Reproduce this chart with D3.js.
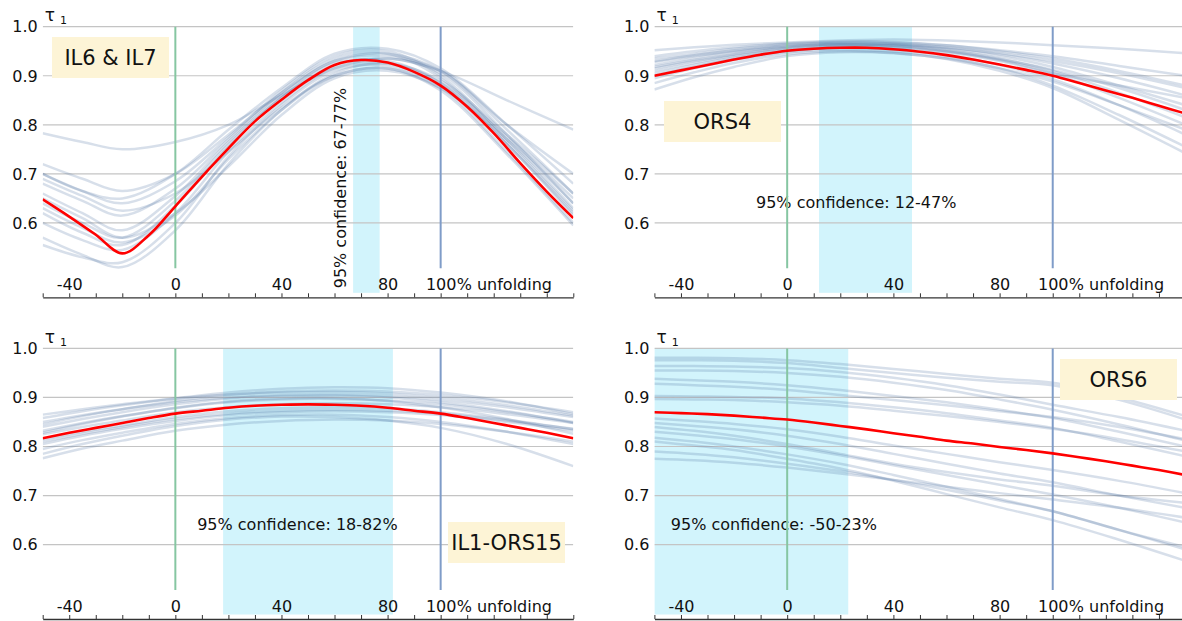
<!DOCTYPE html>
<html>
<head>
<meta charset="utf-8">
<script src="https://cdn.jsdelivr.net/npm/d3@7"></script>
<style>
  body { margin: 0; background: #fff; }
  svg text { font-family: "DejaVu Sans", sans-serif; fill: #111; }
</style>
</head>
<body>
<div id="chart"></div>
<script>
const width = 1182;
const height = 621;

// x positions (% unfolding) of the sampled values
const unfoldFine = [-50, -40, -30, -20, -10, 0, 10, 20, 30, 40, 50, 60, 70, 80, 90, 100, 110, 120, 130, 140, 150];
const unfoldCoarse = [-50, -35, -20, 0, 20, 40, 60, 80, 100, 125, 150];
const minorTicks = [-50, -40, -30, -20, -10, 0, 10, 20, 30, 40, 50, 60, 70, 80, 90, 100, 110, 120, 130, 140, 150];
const xTickLabels = [-40, 0, 40, 80, 100];
const yTicks = [0.6, 0.7, 0.8, 0.9, 1.0];

// IL6 & IL7
const il67Mean = [0.648, 0.613, 0.576, 0.538, 0.575, 0.634, 0.694, 0.752, 0.807, 0.851, 0.891, 0.922, 0.932, 0.927, 0.908, 0.880, 0.837, 0.783, 0.722, 0.664, 0.610];
const il67Boot = [
  [0.783, 0.765, 0.750, 0.765, 0.800, 0.860, 0.915, 0.935, 0.905, 0.780, 0.640],
  [0.720, 0.690, 0.665, 0.700, 0.780, 0.865, 0.930, 0.945, 0.910, 0.790, 0.660],
  [0.700, 0.665, 0.640, 0.685, 0.775, 0.870, 0.940, 0.950, 0.900, 0.770, 0.630],
  [0.680, 0.645, 0.615, 0.670, 0.770, 0.865, 0.935, 0.945, 0.895, 0.765, 0.625],
  [0.660, 0.620, 0.585, 0.655, 0.765, 0.860, 0.930, 0.940, 0.910, 0.800, 0.700],
  [0.640, 0.600, 0.570, 0.645, 0.760, 0.855, 0.920, 0.935, 0.910, 0.850, 0.790],
  [0.620, 0.580, 0.555, 0.635, 0.755, 0.855, 0.925, 0.930, 0.885, 0.760, 0.615],
  [0.600, 0.565, 0.545, 0.620, 0.745, 0.845, 0.915, 0.925, 0.885, 0.775, 0.650],
  [0.555, 0.530, 0.520, 0.600, 0.735, 0.840, 0.910, 0.920, 0.880, 0.760, 0.620],
  [0.570, 0.535, 0.510, 0.585, 0.720, 0.830, 0.905, 0.925, 0.890, 0.780, 0.660],
  [0.690, 0.655, 0.625, 0.660, 0.745, 0.835, 0.900, 0.915, 0.875, 0.745, 0.600],
  [0.650, 0.610, 0.570, 0.620, 0.715, 0.820, 0.895, 0.910, 0.875, 0.770, 0.640],
  [0.700, 0.665, 0.650, 0.700, 0.790, 0.875, 0.945, 0.955, 0.915, 0.800, 0.680],
  [0.630, 0.590, 0.560, 0.615, 0.730, 0.830, 0.900, 0.915, 0.870, 0.740, 0.595]
];

// ORS4
const ors4Mean = [0.900, 0.911, 0.922, 0.933, 0.943, 0.951, 0.955, 0.957, 0.957, 0.954, 0.949, 0.942, 0.933, 0.923, 0.912, 0.900, 0.885, 0.870, 0.855, 0.839, 0.823];
const ors4Boot = [
  [0.952, 0.958, 0.963, 0.968, 0.972, 0.974, 0.972, 0.968, 0.962, 0.955, 0.946],
  [0.940, 0.950, 0.958, 0.966, 0.970, 0.969, 0.962, 0.950, 0.935, 0.910, 0.880],
  [0.930, 0.942, 0.952, 0.962, 0.967, 0.966, 0.958, 0.944, 0.925, 0.895, 0.860],
  [0.922, 0.936, 0.948, 0.959, 0.965, 0.964, 0.955, 0.940, 0.918, 0.880, 0.840],
  [0.915, 0.930, 0.943, 0.956, 0.962, 0.962, 0.953, 0.935, 0.910, 0.865, 0.815],
  [0.910, 0.926, 0.940, 0.954, 0.960, 0.958, 0.948, 0.930, 0.905, 0.880, 0.855],
  [0.905, 0.922, 0.937, 0.951, 0.957, 0.954, 0.943, 0.922, 0.893, 0.840, 0.780],
  [0.895, 0.915, 0.932, 0.948, 0.953, 0.950, 0.938, 0.915, 0.880, 0.820, 0.755],
  [0.885, 0.907, 0.926, 0.944, 0.950, 0.947, 0.934, 0.910, 0.875, 0.810, 0.742],
  [0.872, 0.897, 0.918, 0.940, 0.948, 0.946, 0.935, 0.915, 0.888, 0.840, 0.790],
  [0.928, 0.940, 0.950, 0.960, 0.964, 0.963, 0.957, 0.946, 0.930, 0.905, 0.875],
  [0.918, 0.932, 0.944, 0.957, 0.963, 0.961, 0.950, 0.932, 0.905, 0.855, 0.800],
  [0.900, 0.918, 0.934, 0.950, 0.958, 0.958, 0.950, 0.934, 0.912, 0.875, 0.830],
  [0.935, 0.945, 0.955, 0.964, 0.968, 0.968, 0.962, 0.952, 0.940, 0.920, 0.900]
];

// IL1-ORS15
const il1Mean = [0.817, 0.828, 0.838, 0.848, 0.858, 0.867, 0.873, 0.879, 0.883, 0.885, 0.886, 0.885, 0.883, 0.879, 0.873, 0.867, 0.858, 0.848, 0.838, 0.828, 0.817];
const il1Boot = [
  [0.865, 0.876, 0.886, 0.898, 0.906, 0.910, 0.911, 0.908, 0.900, 0.884, 0.863],
  [0.850, 0.864, 0.876, 0.890, 0.900, 0.905, 0.906, 0.903, 0.895, 0.880, 0.860],
  [0.840, 0.856, 0.870, 0.886, 0.898, 0.903, 0.904, 0.900, 0.890, 0.872, 0.848],
  [0.832, 0.848, 0.862, 0.878, 0.890, 0.896, 0.897, 0.894, 0.886, 0.870, 0.850],
  [0.825, 0.840, 0.853, 0.870, 0.880, 0.886, 0.888, 0.886, 0.880, 0.866, 0.848],
  [0.815, 0.830, 0.843, 0.860, 0.872, 0.878, 0.880, 0.878, 0.870, 0.855, 0.835],
  [0.805, 0.822, 0.836, 0.852, 0.864, 0.870, 0.872, 0.870, 0.864, 0.850, 0.832],
  [0.795, 0.813, 0.828, 0.846, 0.858, 0.864, 0.865, 0.860, 0.850, 0.830, 0.805],
  [0.785, 0.805, 0.822, 0.842, 0.855, 0.861, 0.860, 0.853, 0.838, 0.805, 0.760],
  [0.776, 0.796, 0.812, 0.832, 0.845, 0.852, 0.855, 0.853, 0.846, 0.830, 0.810],
  [0.845, 0.862, 0.876, 0.893, 0.905, 0.912, 0.914, 0.912, 0.905, 0.890, 0.870],
  [0.828, 0.846, 0.861, 0.879, 0.892, 0.898, 0.899, 0.893, 0.880, 0.856, 0.826],
  [0.810, 0.826, 0.840, 0.856, 0.867, 0.873, 0.875, 0.873, 0.867, 0.853, 0.836],
  [0.858, 0.872, 0.884, 0.898, 0.910, 0.918, 0.921, 0.919, 0.910, 0.892, 0.866]
];

// ORS6
const ors6Mean = [0.870, 0.868, 0.866, 0.863, 0.859, 0.855, 0.849, 0.842, 0.835, 0.827, 0.820, 0.812, 0.806, 0.799, 0.793, 0.786, 0.778, 0.770, 0.761, 0.752, 0.742];
const ors6Boot = [
  [0.981, 0.981, 0.980, 0.976, 0.968, 0.958, 0.948, 0.938, 0.930, 0.900, 0.862],
  [0.976, 0.976, 0.975, 0.970, 0.960, 0.950, 0.940, 0.932, 0.925, 0.895, 0.855],
  [0.964, 0.964, 0.963, 0.960, 0.952, 0.940, 0.925, 0.906, 0.885, 0.860, 0.832],
  [0.955, 0.955, 0.954, 0.950, 0.942, 0.930, 0.915, 0.896, 0.875, 0.845, 0.812],
  [0.938, 0.935, 0.932, 0.925, 0.915, 0.903, 0.890, 0.875, 0.858, 0.830, 0.800],
  [0.928, 0.925, 0.922, 0.915, 0.905, 0.895, 0.884, 0.872, 0.860, 0.840, 0.815],
  [0.903, 0.902, 0.901, 0.898, 0.890, 0.880, 0.868, 0.853, 0.838, 0.810, 0.780],
  [0.897, 0.896, 0.895, 0.890, 0.883, 0.873, 0.862, 0.850, 0.836, 0.815, 0.790],
  [0.857, 0.852, 0.846, 0.835, 0.820, 0.802, 0.785, 0.768, 0.752, 0.730, 0.705],
  [0.848, 0.842, 0.835, 0.822, 0.805, 0.785, 0.765, 0.745, 0.727, 0.700, 0.675],
  [0.840, 0.832, 0.822, 0.805, 0.785, 0.765, 0.748, 0.733, 0.720, 0.700, 0.685],
  [0.818, 0.810, 0.800, 0.784, 0.765, 0.742, 0.718, 0.693, 0.668, 0.630, 0.590],
  [0.810, 0.802, 0.793, 0.775, 0.755, 0.730, 0.703, 0.676, 0.650, 0.610, 0.567],
  [0.790, 0.785, 0.778, 0.765, 0.750, 0.732, 0.712, 0.690, 0.668, 0.630, 0.595],
  [0.775, 0.772, 0.767, 0.757, 0.745, 0.732, 0.718, 0.705, 0.692, 0.675, 0.655],
  [0.830, 0.823, 0.815, 0.800, 0.782, 0.762, 0.742, 0.722, 0.702, 0.675, 0.645]
];

const panels = [
  { name: "IL6 & IL7", mean: il67Mean, boot: il67Boot, ci: [67, 77], col: 0, row: 0,
    box: [52, 37], ciAt: 64.3, ciRotate: true },
  { name: "ORS4", mean: ors4Mean, boot: ors4Boot, ci: [12, 47], col: 1, row: 0,
    box: [664, 101], ciAt: 26, ciRotate: false },
  { name: "IL1-ORS15", mean: il1Mean, boot: il1Boot, ci: [18, 82], col: 0, row: 1,
    box: [448, 522], ciAt: 46, ciRotate: false },
  { name: "ORS6", mean: ors6Mean, boot: ors6Boot, ci: [-50, 23], col: 1, row: 1,
    box: [1060, 359], ciAt: -5, ciRotate: false }
];

const colX = [[42.7, 573.3], [654.4, 1185.5]];
const rowShift = [0, 321.7];
const boxW = 117, boxH = 41;

const svg = d3.select("#chart").append("svg")
  .attr("width", width)
  .attr("height", height);

const defs = svg.append("defs");

panels.forEach((p, i) => {
  const dy = rowShift[p.row];
  const x = d3.scaleLinear().domain([-50, 150]).range(colX[p.col]);
  const y = d3.scaleLinear().domain([0.5, 1.0]).range([272 + dy, 26.7 + dy]);
  const axisY = 297.3 + dy;
  const right = Math.min(colX[p.col][1], width);

  defs.append("clipPath").attr("id", `clip${i}`)
    .append("rect")
    .attr("x", colX[p.col][0])
    .attr("y", dy)
    .attr("width", right - colX[p.col][0])
    .attr("height", axisY - dy);

  const g = svg.append("g");
  const plot = g.append("g").attr("clip-path", `url(#clip${i})`);

  // confidence band
  plot.append("rect")
    .attr("x", x(p.ci[0]))
    .attr("width", x(p.ci[1]) - x(p.ci[0]))
    .attr("y", y(1.0))
    .attr("height", axisY - 4.5 - y(1.0))
    .attr("fill", "#d2f4fc");

  // grid
  plot.selectAll(".grid")
    .data(yTicks)
    .join("line")
    .attr("class", "grid")
    .attr("x1", colX[p.col][0])
    .attr("x2", right)
    .attr("y1", (d) => y(d))
    .attr("y2", (d) => y(d))
    .attr("stroke", "#c4c4c4")
    .attr("stroke-width", 1.2);

  // y labels
  g.selectAll(".ylab")
    .data(yTicks)
    .join("text")
    .attr("class", "ylab")
    .attr("x", colX[p.col][0] - 5)
    .attr("y", (d) => y(d))
    .attr("dy", "0.36em")
    .attr("text-anchor", "end")
    .style("font-size", "16px")
    .text((d) => d.toFixed(1));

  // tau label
  const tau = g.append("text")
    .attr("x", colX[p.col][0] + 2)
    .attr("y", dy + 21)
    .style("font-size", "17px")
    .text("τ");
  tau.append("tspan")
    .attr("dx", 5)
    .attr("dy", 3)
    .style("font-size", "11px")
    .text("1");

  // ci text
  const ciText = `95% confidence: ${p.ci[0]}-${p.ci[1]}%`;
  if (p.ciRotate) {
    plot.append("text")
      .attr("transform", `translate(${x(p.ciAt)}, ${axisY - 9}) rotate(-90)`)
      .style("font-size", "16px")
      .text(ciText);
  } else {
    plot.append("text")
      .attr("x", x(p.ciAt))
      .attr("y", y(0.63))
      .attr("text-anchor", "middle")
      .style("font-size", "16px")
      .text(ciText);
  }

  // bootstrap curves
  const bootLine = d3.line()
    .x((d, j) => x(unfoldCoarse[j]))
    .y((d) => y(d))
    .curve(d3.curveCatmullRom.alpha(0.5));

  plot.selectAll(".boot")
    .data(p.boot)
    .join("path")
    .attr("class", "boot")
    .attr("d", bootLine)
    .attr("fill", "none")
    .attr("stroke", "#4a6fa0")
    .attr("stroke-opacity", 0.22)
    .attr("stroke-width", 2.5);

  // reference lines at 0 and 100
  plot.append("line")
    .attr("x1", x(0)).attr("x2", x(0))
    .attr("y1", y(1.0)).attr("y2", axisY - 29)
    .attr("stroke", "#86c6a2")
    .attr("stroke-width", 2);
  plot.append("line")
    .attr("x1", x(100)).attr("x2", x(100))
    .attr("y1", y(1.0)).attr("y2", axisY - 29)
    .attr("stroke", "#7f9cc8")
    .attr("stroke-width", 2);

  // mean curve
  const meanLine = d3.line()
    .x((d, j) => x(unfoldFine[j]))
    .y((d) => y(d))
    .curve(d3.curveCatmullRom.alpha(0.5));

  plot.append("path")
    .datum(p.mean)
    .attr("d", meanLine)
    .attr("fill", "none")
    .attr("stroke", "#ff0000")
    .attr("stroke-width", 2.6);

  // x axis, ticks pointing up, labels above
  const axis = d3.axisTop(x)
    .tickValues(minorTicks)
    .tickSize(4)
    .tickSizeOuter(0)
    .tickPadding(3)
    .tickFormat((d) => (xTickLabels.includes(d) ? String(d) : ""));

  const ax = g.append("g")
    .attr("transform", `translate(0, ${axisY})`)
    .call(axis);
  ax.select(".domain").attr("stroke", "#333").attr("stroke-width", 1.3);
  ax.selectAll(".tick line").attr("stroke", "#333");
  ax.selectAll(".tick text")
    .style("font-family", "'DejaVu Sans', sans-serif")
    .style("font-size", "16px")
    .attr("fill", "#111");

  g.append("text")
    .attr("x", x(100) + 16)
    .attr("y", axisY - 7)
    .style("font-size", "16px")
    .text("% unfolding");

  // name box
  g.append("rect")
    .attr("x", p.box[0])
    .attr("y", p.box[1])
    .attr("width", boxW)
    .attr("height", boxH)
    .attr("fill", "#fdf4d6");
  g.append("text")
    .attr("x", p.box[0] + boxW / 2)
    .attr("y", p.box[1] + boxH / 2)
    .attr("dy", "0.36em")
    .attr("text-anchor", "middle")
    .style("font-size", "21px")
    .text(p.name);
});
</script>
</body>
</html>
